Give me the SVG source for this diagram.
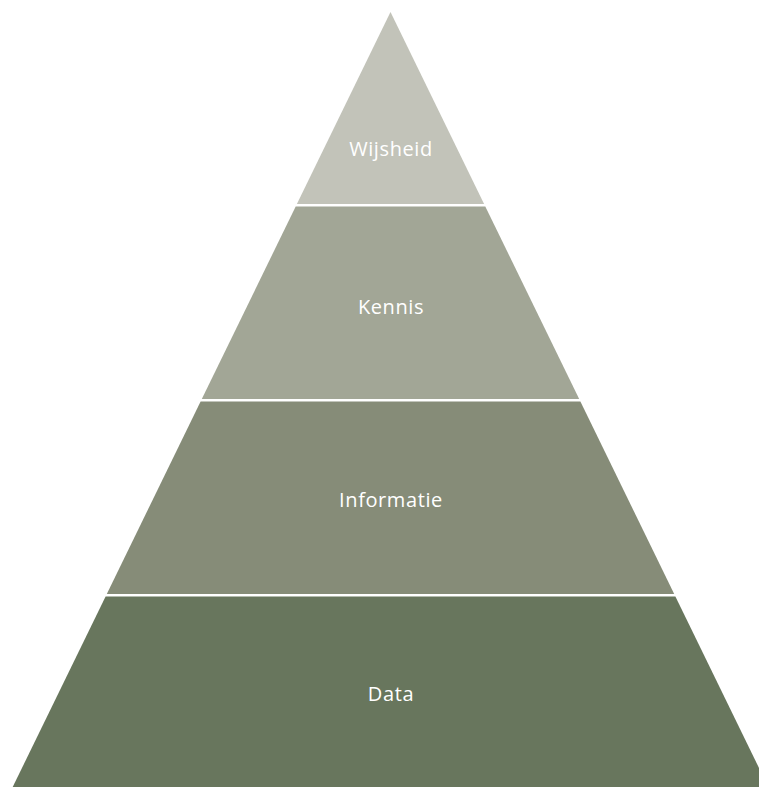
<svg xmlns="http://www.w3.org/2000/svg" width="759" height="787" viewBox="0 0 759 787">
<style>
.lbl{font-family:"Open Sans","Liberation Sans",sans-serif;font-size:20px;font-weight:500;letter-spacing:0.6px;fill:#ffffff;text-anchor:middle}
</style>
<rect width="759" height="787" fill="#ffffff"/>
<g id="wijsheid">
<polygon points="390.5,12 484.1,204 296.9,204" fill="#c2c3b9"/>
<text class="lbl" x="391" y="156">Wijsheid</text>
</g>
<g id="kennis">
<polygon points="295.7,206.5 485.3,206.5 579.2,399 201.8,399" fill="#a2a696"/>
<text class="lbl" x="391" y="314">Kennis</text>
</g>
<g id="informatie">
<polygon points="200.6,401.5 580.4,401.5 674.2,594 106.8,594" fill="#868c78"/>
<text class="lbl" x="391" y="507">Informatie</text>
</g>
<g id="data">
<polygon points="105.6,596.5 675.4,596.5 768.3,787 12.7,787" fill="#68765d"/>
<text class="lbl" x="391" y="701">Data</text>
</g>
<g id="connectors"/>
</svg>
